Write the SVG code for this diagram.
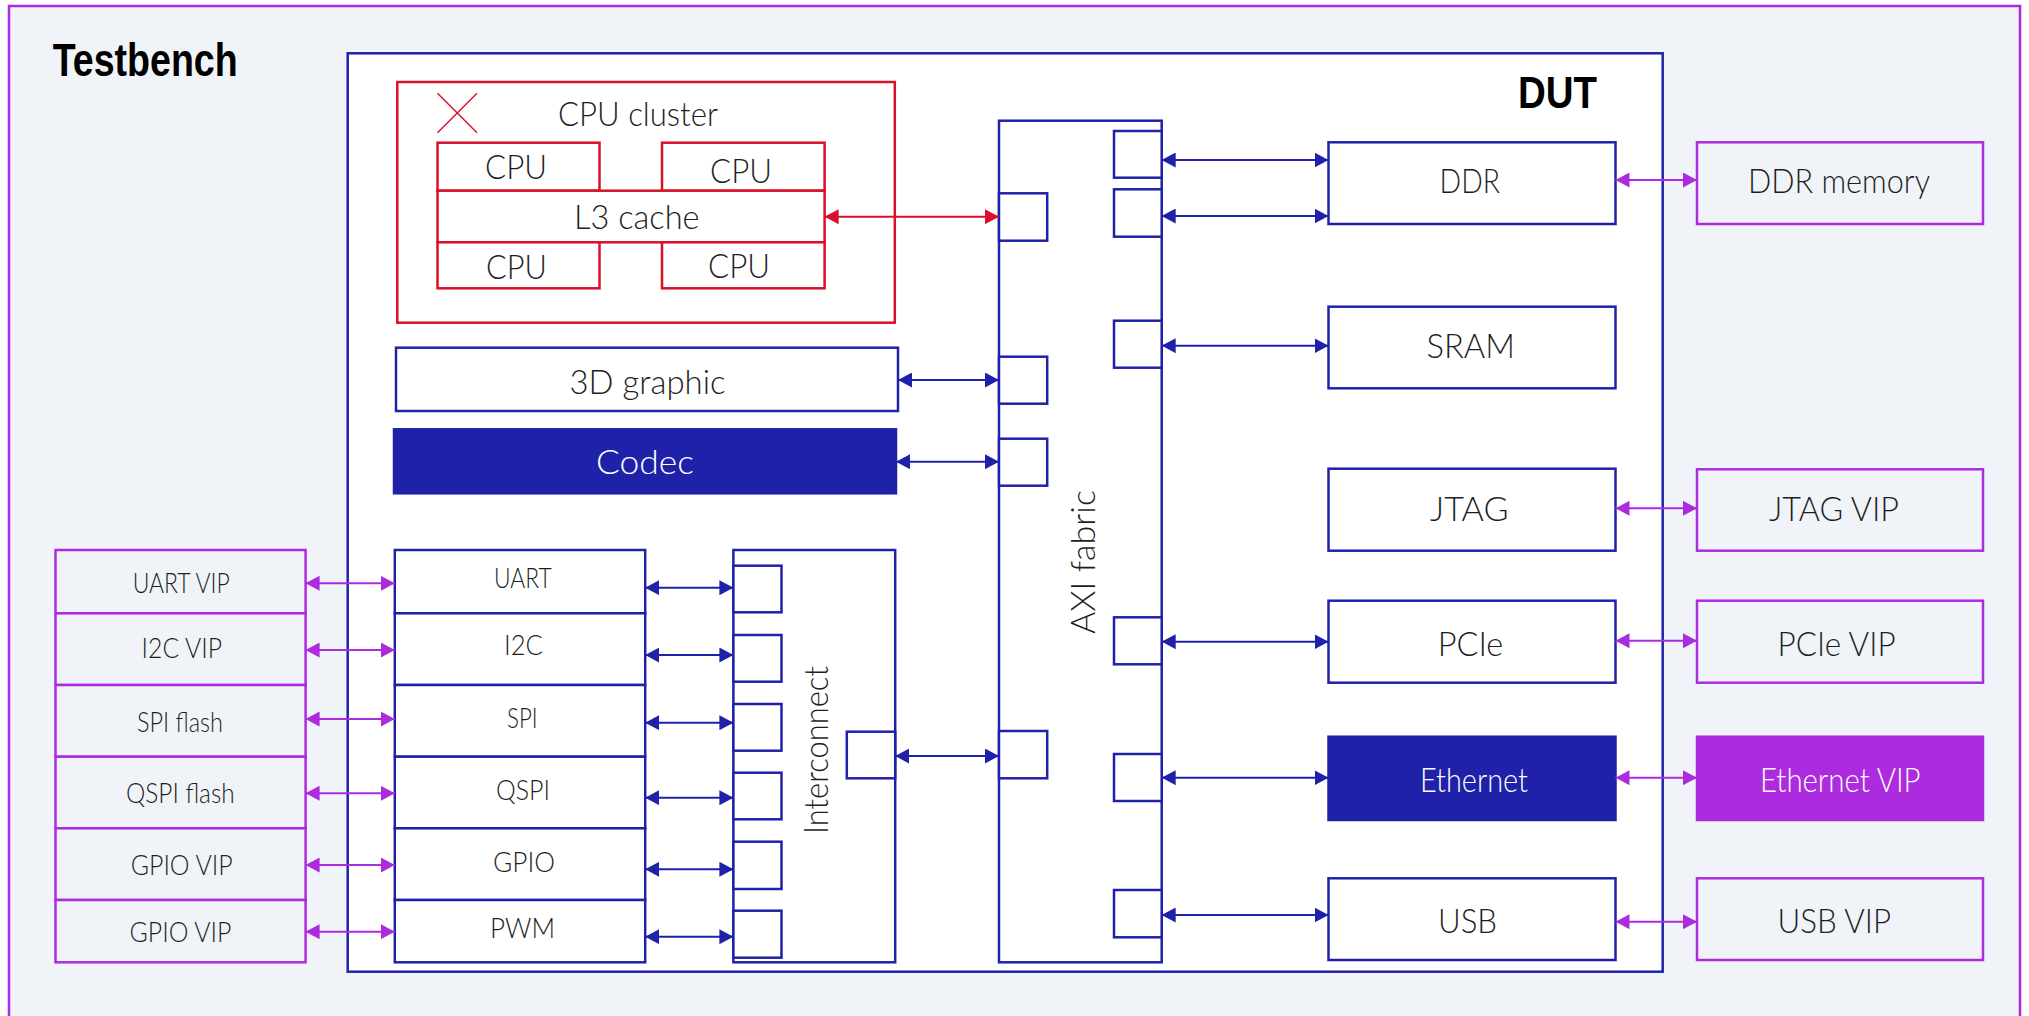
<svg xmlns="http://www.w3.org/2000/svg" width="2029" height="1016" viewBox="0 0 2029 1016">
<style>
.tb{fill:#F0F4F8;stroke:#AD2BDE;stroke-width:2.5}
.bb{fill:#FFFFFF;stroke:#1F22A8;stroke-width:2.5}
.bf{fill:#1F22A8;stroke:#1F22A8;stroke-width:2.5}
.rb{fill:#FFFFFF;stroke:#D9102A;stroke-width:2.5}
.pb{fill:#F0F4F8;stroke:#AD2BDE;stroke-width:2.5}
.pf{fill:#AD2BDE;stroke:#AD2BDE;stroke-width:2.5}
.pt{fill:#FFFFFF;stroke:#1F22A8;stroke-width:2.5}
text{font-family:Lato,'Liberation Sans',sans-serif;font-weight:300;fill:#1E1E1E}
.l{font-size:34px}
.s{font-size:28px}
.w{fill:#FFFFFF}
.h{font-family:'Liberation Sans',Lato,sans-serif;font-weight:700;fill:#000000}
.cb{stroke:#1F22A8;stroke-width:2;fill:none;marker-start:url(#ab);marker-end:url(#ab)}
.cp{stroke:#AD2BDE;stroke-width:2;fill:none;marker-start:url(#ap);marker-end:url(#ap)}
.cr{stroke:#D9102A;stroke-width:2;fill:none;marker-start:url(#ar);marker-end:url(#ar)}
</style>
<defs>
<marker id="ab" viewBox="0 0 14 15" refX="14" refY="7.5" markerWidth="14" markerHeight="15" markerUnits="userSpaceOnUse" orient="auto-start-reverse"><path d="M0,0 L14,7.5 L0,15 z" fill="#1F22A8"/></marker>
<marker id="ap" viewBox="0 0 14 15" refX="14" refY="7.5" markerWidth="14" markerHeight="15" markerUnits="userSpaceOnUse" orient="auto-start-reverse"><path d="M0,0 L14,7.5 L0,15 z" fill="#AD2BDE"/></marker>
<marker id="ar" viewBox="0 0 14 15" refX="14" refY="7.5" markerWidth="14" markerHeight="15" markerUnits="userSpaceOnUse" orient="auto-start-reverse"><path d="M0,0 L14,7.5 L0,15 z" fill="#D9102A"/></marker>
</defs>

<g id="testbench">
<rect class="tb" x="9" y="6" width="2011" height="1040"/>
<text class="h" x="52.7" y="76" font-size="46" textLength="185" lengthAdjust="spacingAndGlyphs">Testbench</text>
</g>

<g id="dut">
<rect class="bb" x="347.7" y="53.3" width="1315" height="918.4"/>
<text class="h" x="1518" y="108" font-size="45" textLength="79" lengthAdjust="spacingAndGlyphs">DUT</text>
</g>

<g id="cpu-cluster">
<rect class="rb" x="397.3" y="82" width="497.5" height="240.7"/>
<line x1="437.5" y1="93.3" x2="477" y2="132.7" stroke="#D9102A" stroke-width="1.5"/>
<line x1="477" y1="93.3" x2="437.5" y2="132.7" stroke="#D9102A" stroke-width="1.5"/>
<text class="l" x="558" y="126" textLength="160" lengthAdjust="spacingAndGlyphs">CPU cluster</text>
</g>
<g id="cpu-1"><rect class="rb" x="437.5" y="142.7" width="162" height="48"/><text class="l" x="485" y="179.3" textLength="62" lengthAdjust="spacingAndGlyphs">CPU</text></g>
<g id="cpu-2"><rect class="rb" x="662" y="142.7" width="162.6" height="48"/><text class="l" x="710" y="183" textLength="62" lengthAdjust="spacingAndGlyphs">CPU</text></g>
<g id="l3-cache"><rect class="rb" x="437.5" y="190.7" width="387.1" height="51.6"/><text class="l" x="574" y="229.3" textLength="125.6" lengthAdjust="spacingAndGlyphs">L3 cache</text></g>
<g id="cpu-3"><rect class="rb" x="437.5" y="242.3" width="162" height="46"/><text class="l" x="486" y="279" textLength="61" lengthAdjust="spacingAndGlyphs">CPU</text></g>
<g id="cpu-4"><rect class="rb" x="662" y="242.3" width="162.6" height="46"/><text class="l" x="708" y="278.3" textLength="62" lengthAdjust="spacingAndGlyphs">CPU</text></g>

<g id="graphic-3d"><rect class="bb" x="396" y="347.7" width="502" height="63.3"/><text class="l" x="569.5" y="394.3" textLength="156" lengthAdjust="spacingAndGlyphs">3D graphic</text></g>
<g id="codec"><rect class="bf" x="394" y="429.3" width="502" height="64"/><text class="l w" x="596" y="474" textLength="98" lengthAdjust="spacingAndGlyphs">Codec</text></g>

<g id="axi-fabric">
<rect class="bb" x="999" y="120.7" width="162.7" height="841.6"/>
<text class="l" transform="translate(1094.5,634) rotate(-90)" x="0" y="0" textLength="144" lengthAdjust="spacingAndGlyphs">AXI fabric</text>
<rect class="pt" x="999" y="193.3" width="48.2" height="47.4"/>
<rect class="pt" x="999" y="356.7" width="48.2" height="47"/>
<rect class="pt" x="999" y="438.7" width="48.2" height="47"/>
<rect class="pt" x="999" y="731" width="48.2" height="47.3"/>
<rect class="pt" x="1114" y="131" width="47.7" height="46.7"/>
<rect class="pt" x="1114" y="189.3" width="47.7" height="47.4"/>
<rect class="pt" x="1114" y="320.7" width="47.7" height="47"/>
<rect class="pt" x="1114" y="617.3" width="47.7" height="47"/>
<rect class="pt" x="1114" y="754" width="47.7" height="47"/>
<rect class="pt" x="1114" y="890" width="47.7" height="47.3"/>
</g>

<g id="ddr"><rect class="bb" x="1328.5" y="142.3" width="287" height="81.7"/><text class="l" x="1439.6" y="193.3" textLength="60.4" lengthAdjust="spacingAndGlyphs">DDR</text></g>
<g id="sram"><rect class="bb" x="1328.5" y="306.7" width="287" height="81.6"/><text class="l" x="1426.5" y="358.3" textLength="88.5" lengthAdjust="spacingAndGlyphs">SRAM</text></g>
<g id="jtag"><rect class="bb" x="1328.5" y="468.7" width="287" height="82"/><text class="l" x="1430" y="520.5" textLength="78.5" lengthAdjust="spacingAndGlyphs">JTAG</text></g>
<g id="pcie"><rect class="bb" x="1328.5" y="600.7" width="287" height="82"/><text class="l" x="1437.7" y="656" textLength="65.6" lengthAdjust="spacingAndGlyphs">PCIe</text></g>
<g id="ethernet"><rect class="bf" x="1328.5" y="736.7" width="287" height="83.3"/><text class="l w" x="1420" y="791.7" textLength="108" lengthAdjust="spacingAndGlyphs">Ethernet</text></g>
<g id="usb"><rect class="bb" x="1328.5" y="878.3" width="287" height="81.7"/><text class="l" x="1438" y="933.3" textLength="59" lengthAdjust="spacingAndGlyphs">USB</text></g>

<g id="ddr-memory"><rect class="pb" x="1697" y="142.3" width="286" height="81.7"/><text class="l" x="1748" y="193.3" textLength="182" lengthAdjust="spacingAndGlyphs">DDR memory</text></g>
<g id="jtag-vip"><rect class="pb" x="1697" y="469.3" width="286" height="81.4"/><text class="l" x="1769" y="520.5" textLength="130" lengthAdjust="spacingAndGlyphs">JTAG VIP</text></g>
<g id="pcie-vip"><rect class="pb" x="1697" y="600.7" width="286" height="82"/><text class="l" x="1777.6" y="656" textLength="118" lengthAdjust="spacingAndGlyphs">PCIe VIP</text></g>
<g id="ethernet-vip"><rect class="pf" x="1697" y="736.7" width="286" height="83.3"/><text class="l w" x="1760" y="791.7" textLength="160.6" lengthAdjust="spacingAndGlyphs">Ethernet VIP</text></g>
<g id="usb-vip"><rect class="pb" x="1697" y="878.3" width="286" height="81.7"/><text class="l" x="1777.6" y="933.3" textLength="113.4" lengthAdjust="spacingAndGlyphs">USB VIP</text></g>

<g id="uart-vip"><rect class="pb" x="55.5" y="550" width="250.1" height="63.3"/><text class="s" x="132.7" y="593.3" textLength="97" lengthAdjust="spacingAndGlyphs">UART VIP</text></g>
<g id="i2c-vip"><rect class="pb" x="55.5" y="613.3" width="250.1" height="71.7"/><text class="s" x="141.6" y="658.3" textLength="80.4" lengthAdjust="spacingAndGlyphs">I2C VIP</text></g>
<g id="spi-flash"><rect class="pb" x="55.5" y="685" width="250.1" height="71.7"/><text class="s" x="137" y="731.7" textLength="86" lengthAdjust="spacingAndGlyphs">SPI flash</text></g>
<g id="qspi-flash"><rect class="pb" x="55.5" y="756.7" width="250.1" height="71.6"/><text class="s" x="126" y="803.3" textLength="108.7" lengthAdjust="spacingAndGlyphs">QSPI flash</text></g>
<g id="gpio-vip-1"><rect class="pb" x="55.5" y="828.3" width="250.1" height="71.7"/><text class="s" x="130.7" y="875" textLength="102" lengthAdjust="spacingAndGlyphs">GPIO VIP</text></g>
<g id="gpio-vip-2"><rect class="pb" x="55.5" y="900" width="250.1" height="62.3"/><text class="s" x="129.5" y="941.7" textLength="102" lengthAdjust="spacingAndGlyphs">GPIO VIP</text></g>

<g id="uart"><rect class="bb" x="394.8" y="550" width="250.4" height="63.3"/><text class="s" x="494" y="588.3" textLength="57.7" lengthAdjust="spacingAndGlyphs">UART</text></g>
<g id="i2c"><rect class="bb" x="394.8" y="613.3" width="250.4" height="71.7"/><text class="s" x="504" y="655" textLength="39" lengthAdjust="spacingAndGlyphs">I2C</text></g>
<g id="spi"><rect class="bb" x="394.8" y="685" width="250.4" height="71.7"/><text class="s" x="507" y="728.3" textLength="30.6" lengthAdjust="spacingAndGlyphs">SPI</text></g>
<g id="qspi"><rect class="bb" x="394.8" y="756.7" width="250.4" height="71.6"/><text class="s" x="496" y="800" textLength="54" lengthAdjust="spacingAndGlyphs">QSPI</text></g>
<g id="gpio"><rect class="bb" x="394.8" y="828.3" width="250.4" height="71.7"/><text class="s" x="493" y="871.7" textLength="62" lengthAdjust="spacingAndGlyphs">GPIO</text></g>
<g id="pwm"><rect class="bb" x="394.8" y="900" width="250.4" height="62.3"/><text class="s" x="490" y="938.3" textLength="65" lengthAdjust="spacingAndGlyphs">PWM</text></g>

<g id="interconnect">
<rect class="bb" x="733.4" y="550" width="161.8" height="412.3"/>
<text class="l" transform="translate(828.3,834) rotate(-90)" x="0" y="0" textLength="168" lengthAdjust="spacingAndGlyphs">Interconnect</text>
<rect class="pt" x="733.4" y="565.7" width="48.1" height="46.6"/>
<rect class="pt" x="733.4" y="635" width="48.1" height="46.7"/>
<rect class="pt" x="733.4" y="704" width="48.1" height="46.7"/>
<rect class="pt" x="733.4" y="772.7" width="48.1" height="46.6"/>
<rect class="pt" x="733.4" y="841.7" width="48.1" height="47.3"/>
<rect class="pt" x="733.4" y="910.7" width="48.1" height="47"/>
<rect class="pt" x="846.8" y="731.7" width="48.4" height="46.6"/>
</g>

<g id="connectors">
<line class="cr" x1="824.6" y1="216.7" x2="999" y2="216.7"/>
<line class="cb" x1="898" y1="380" x2="999" y2="380"/>
<line class="cb" x1="896" y1="461.7" x2="999" y2="461.7"/>
<line class="cb" x1="895.2" y1="756" x2="999" y2="756"/>
<line class="cb" x1="645.2" y1="587.7" x2="733.4" y2="587.7"/>
<line class="cb" x1="645.2" y1="655" x2="733.4" y2="655"/>
<line class="cb" x1="645.2" y1="722.7" x2="733.4" y2="722.7"/>
<line class="cb" x1="645.2" y1="797.7" x2="733.4" y2="797.7"/>
<line class="cb" x1="645.2" y1="869.3" x2="733.4" y2="869.3"/>
<line class="cb" x1="645.2" y1="936.7" x2="733.4" y2="936.7"/>
<line class="cb" x1="1161.7" y1="160" x2="1328.5" y2="160"/>
<line class="cb" x1="1161.7" y1="216" x2="1328.5" y2="216"/>
<line class="cb" x1="1161.7" y1="345.7" x2="1328.5" y2="345.7"/>
<line class="cb" x1="1161.7" y1="641.7" x2="1328.5" y2="641.7"/>
<line class="cb" x1="1161.7" y1="777.7" x2="1328.5" y2="777.7"/>
<line class="cb" x1="1161.7" y1="915" x2="1328.5" y2="915"/>
<line class="cp" x1="305.6" y1="583.3" x2="394.8" y2="583.3"/>
<line class="cp" x1="305.6" y1="650" x2="394.8" y2="650"/>
<line class="cp" x1="305.6" y1="719" x2="394.8" y2="719"/>
<line class="cp" x1="305.6" y1="793.3" x2="394.8" y2="793.3"/>
<line class="cp" x1="305.6" y1="865" x2="394.8" y2="865"/>
<line class="cp" x1="305.6" y1="931.7" x2="394.8" y2="931.7"/>
<line class="cp" x1="1615.5" y1="180" x2="1697" y2="180"/>
<line class="cp" x1="1615.5" y1="508.3" x2="1697" y2="508.3"/>
<line class="cp" x1="1615.5" y1="640.7" x2="1697" y2="640.7"/>
<line class="cp" x1="1615.5" y1="777.7" x2="1697" y2="777.7"/>
<line class="cp" x1="1615.5" y1="921.7" x2="1697" y2="921.7"/>
</g>
</svg>
